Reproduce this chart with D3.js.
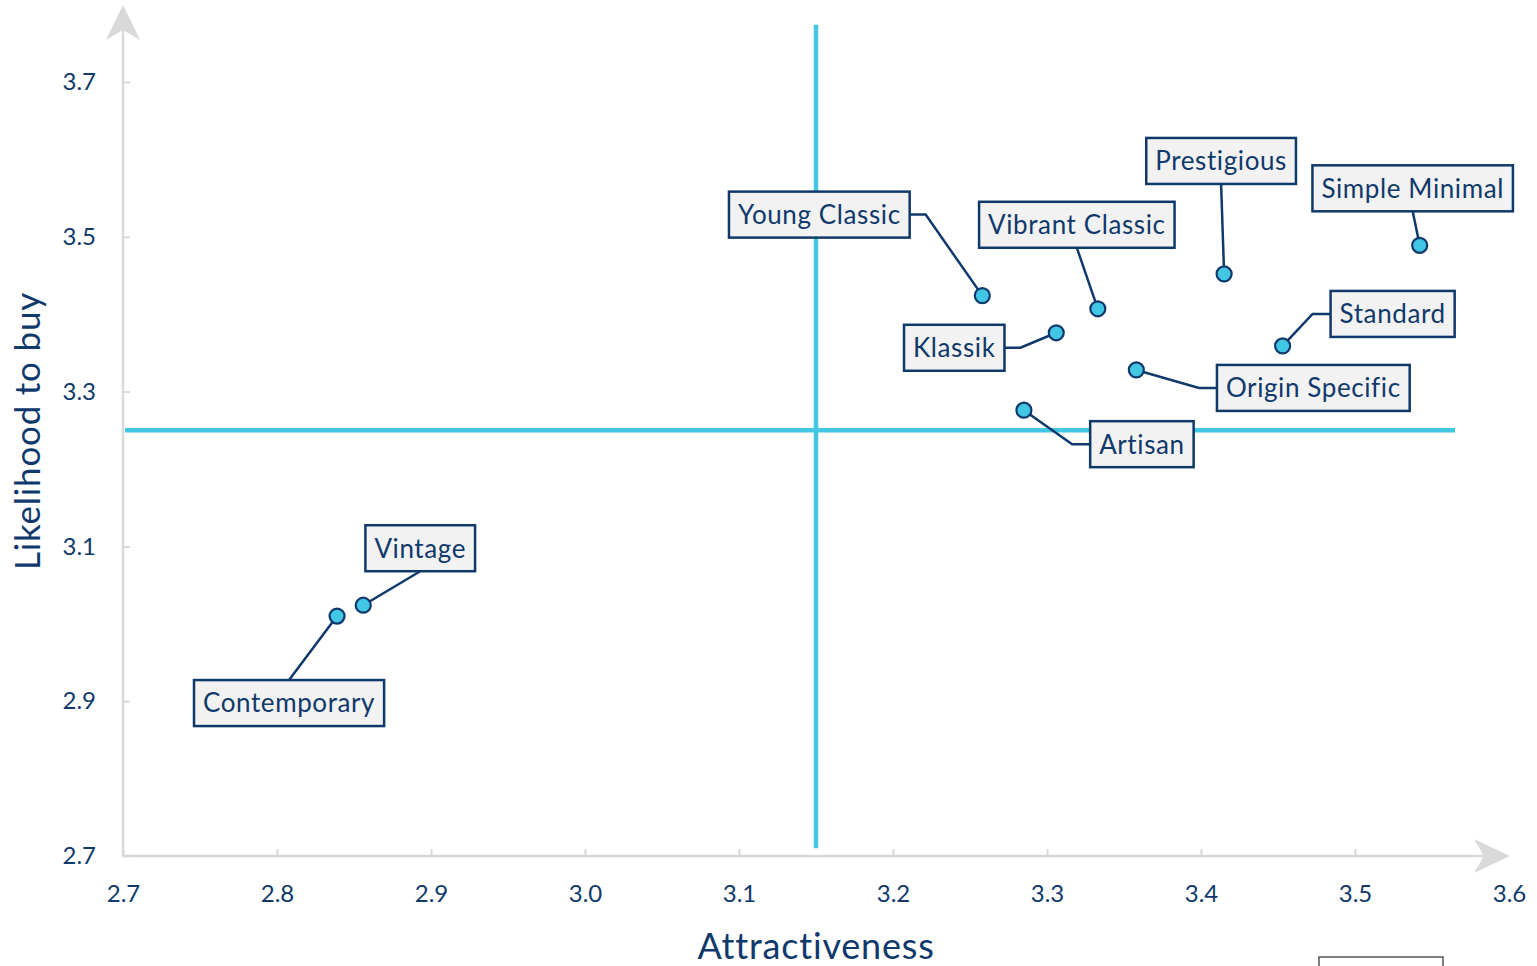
<!DOCTYPE html>
<html>
<head>
<meta charset="utf-8">
<script src="https://cdn.jsdelivr.net/npm/d3@7"></script>
<style>
  body { margin: 0; background: #fff; }
  svg { display: block; }
  text { font-family: Lato, "Open Sans", sans-serif; }
</style>
</head>
<body>
<div id="chart"></div>
<script>
// brands
var names = ["Contemporary", "Vintage", "Young Classic", "Vibrant Classic", "Klassik",
             "Prestigious", "Simple Minimal", "Standard", "Origin Specific", "Artisan"];
var attractiveness = [2.839, 2.856, 3.258, 3.333, 3.306, 3.415, 3.542, 3.453, 3.358, 3.285];
var likelihood     = [3.010, 3.024, 3.424, 3.407, 3.376, 3.452, 3.489, 3.359, 3.328, 3.276];

var xTicks = [2.7, 2.8, 2.9, 3.0, 3.1, 3.2, 3.3, 3.4, 3.5, 3.6];
var yTicks = [2.7, 2.9, 3.1, 3.3, 3.5, 3.7];

// quadrant split lines
var xSplit = 3.15, ySplit = 3.25;

// label box placement (pixels from point to box centre) and which side the leader leaves from
var labelPlace = [
  { dx: -48,   dy: 87,  side: "top" },
  { dx: 57,    dy: -57, side: "bottom" },
  { dx: -163,  dy: -81, side: "right" },
  { dx: -21,   dy: -84, side: "bottom" },
  { dx: -102,  dy: 15,  side: "right" },
  { dx: -3,    dy: -113, side: "bottom" },
  { dx: -7,    dy: -57, side: "bottom" },
  { dx: 110,   dy: -32, side: "left" },
  { dx: 177,   dy: 18,  side: "left" },
  { dx: 118,   dy: 34,  side: "left" }
];

var W = 1537, H = 966;
var navy = "#10396b", cyan = "#41c6e3", grey = "#d9d9d9";

var svg = d3.select("#chart").append("svg")
  .attr("width", W)
  .attr("height", H);

var x = d3.scaleLinear().domain([2.7, 3.6]).range([123, 1509]);
var y = d3.scaleLinear().domain([2.7, 3.7]).range([856, 82]);

// axes
var xAxis = d3.axisBottom(x).tickValues(xTicks).tickFormat(d3.format(".1f"))
  .tickSize(-7).tickPadding(29);
var yAxis = d3.axisLeft(y).tickValues(yTicks).tickFormat(d3.format(".1f"))
  .tickSize(-7).tickPadding(27);

var gx = svg.append("g").attr("transform", "translate(0," + y(2.7) + ")").call(xAxis);
var gy = svg.append("g").attr("transform", "translate(" + x(2.7) + ",0)").call(yAxis);

[gx, gy].forEach(function(g) {
  g.select(".domain").remove();
  g.selectAll(".tick line").attr("stroke", grey).attr("stroke-width", 2);
  g.selectAll(".tick text").attr("fill", navy).style("font-size", "24px");
});
gx.selectAll(".tick").filter(function(d) { return d === 3.6; }).select("line").remove();

// axis lines with arrow heads
var x0 = x(2.7), y0 = y(2.7);
svg.append("line").attr("x1", x0).attr("y1", y0).attr("x2", 1500).attr("y2", y0)
  .attr("stroke", grey).attr("stroke-width", 2.5);
svg.append("line").attr("x1", x0).attr("y1", y0 + 1).attr("x2", x0).attr("y2", 14)
  .attr("stroke", grey).attr("stroke-width", 2.5);
svg.append("path")
  .attr("d", "M1510," + y0 + " L1474," + (y0 - 17) + " L1484," + y0 + " L1474," + (y0 + 17) + "Z")
  .attr("fill", grey);
svg.append("path")
  .attr("d", "M" + x0 + ",5 L" + (x0 - 17) + ",40 L" + x0 + ",30 L" + (x0 + 17) + ",40Z")
  .attr("fill", grey);

// quadrant lines
svg.append("line")
  .attr("x1", x(xSplit)).attr("x2", x(xSplit))
  .attr("y1", y(3.774)).attr("y2", y(2.71))
  .attr("stroke", cyan).attr("stroke-width", 4.5);
svg.append("line")
  .attr("x1", x(2.7) + 2).attr("x2", x(3.565))
  .attr("y1", y(ySplit)).attr("y2", y(ySplit))
  .attr("stroke", cyan).attr("stroke-width", 4.5);

// axis titles
svg.append("text")
  .attr("x", 816).attr("y", 959)
  .attr("text-anchor", "middle")
  .attr("fill", navy).style("font-size", "36px").style("letter-spacing", "0.8px")
  .text("Attractiveness");
svg.append("text")
  .attr("transform", "translate(40,431) rotate(-90)")
  .attr("text-anchor", "middle")
  .attr("fill", navy).style("font-size", "35px").style("letter-spacing", "0.8px")
  .text("Likelihood to buy");

// stray box at bottom right of the source slide
svg.append("rect")
  .attr("x", 1319).attr("y", 957).attr("width", 124).attr("height", 30)
  .attr("fill", "none").attr("stroke", "#555").attr("stroke-width", 1.5);

// labels and leaders
var pts = names.map(function(n, i) {
  return { name: n, px: x(attractiveness[i]), py: y(likelihood[i]), place: labelPlace[i] };
});

var leaders = svg.append("g");
var labels = svg.append("g");

pts.forEach(function(d) {
  var cx = d.px + d.place.dx, cy = d.py + d.place.dy;
  var g = labels.append("g");
  var t = g.append("text")
    .attr("x", cx).attr("y", cy)
    .attr("text-anchor", "middle")
    .attr("dy", "0.36em")
    .attr("fill", navy).style("font-size", "26px").style("letter-spacing", "0.6px")
    .text(d.name);
  var w = t.node().getComputedTextLength() + 18, h = 46;
  g.insert("rect", "text")
    .attr("x", cx - w / 2).attr("y", cy - h / 2)
    .attr("width", w).attr("height", h)
    .attr("fill", "#f2f2f2").attr("stroke", navy).attr("stroke-width", 2.5);

  var pathPts;
  if (d.place.side === "bottom") pathPts = [[cx, cy + h / 2], [d.px, d.py]];
  else if (d.place.side === "top") pathPts = [[cx, cy - h / 2], [d.px, d.py]];
  else if (d.place.side === "right") pathPts = [[cx + w / 2, cy], [cx + w / 2 + 16, cy], [d.px, d.py]];
  else pathPts = [[cx - w / 2, cy], [cx - w / 2 - 18, cy], [d.px, d.py]];
  leaders.append("path")
    .attr("d", d3.line()(pathPts))
    .attr("fill", "none").attr("stroke", navy).attr("stroke-width", 2.5);
});

// points
svg.append("g").selectAll("circle")
  .data(pts)
  .enter().append("circle")
  .attr("cx", function(d) { return d.px; })
  .attr("cy", function(d) { return d.py; })
  .attr("r", 7.5)
  .attr("fill", cyan)
  .attr("stroke", navy)
  .attr("stroke-width", 2.2);
</script>
</body>
</html>
